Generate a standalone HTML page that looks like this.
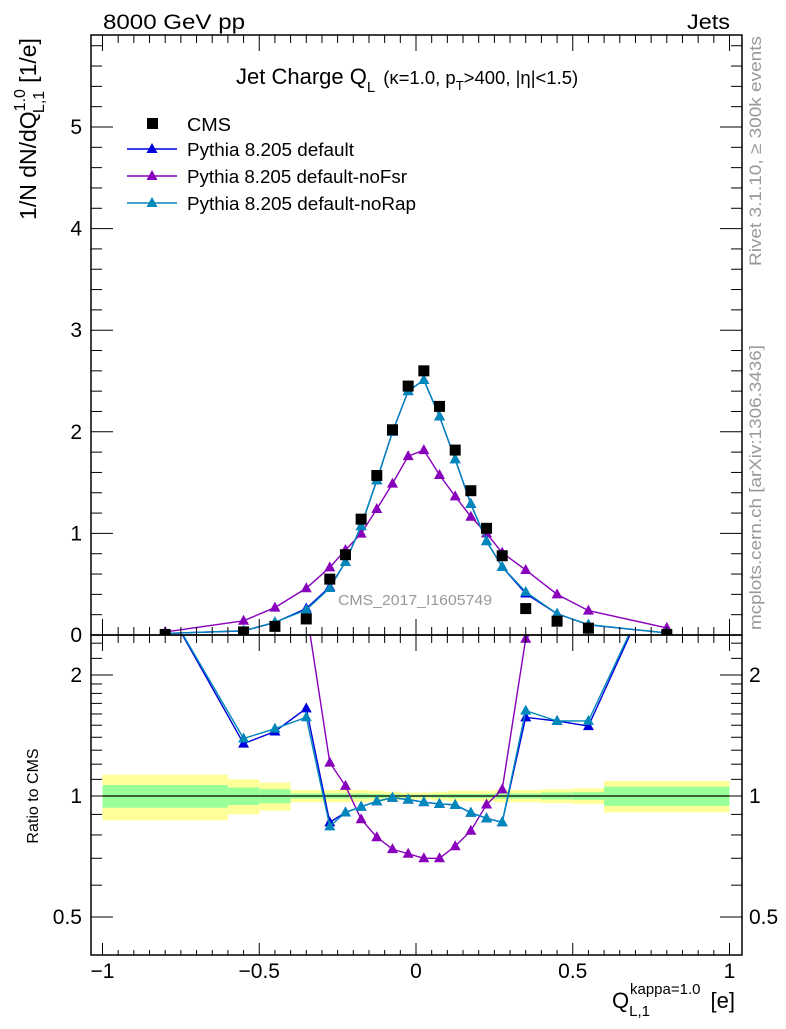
<!DOCTYPE html>
<html><head><meta charset="utf-8"><style>
body{margin:0;background:#fff;width:786px;height:1024px;overflow:hidden}
svg{font-family:"Liberation Sans",sans-serif}
</style></head><body>
<svg id="c" width="786" height="1024" viewBox="0 0 786 1024"></svg>
<script>
const xs=[-0.8,-0.55,-0.45,-0.35,-0.275,-0.225,-0.175,-0.125,-0.075,-0.025,0.025,0.075,0.125,0.175,0.225,0.275,0.35,0.45,0.55,0.8];
const cms=[0.005,0.03,0.085,0.158,0.55,0.79,1.14,1.57,2.02,2.45,2.60,2.25,1.82,1.42,1.05,0.78,0.26,0.136,0.067,0.005];
const pyDefault=[0.015,0.0405,0.123,0.261,0.473,0.719,1.072,1.523,2.0,2.40,2.51,2.15,1.73,1.29,0.924,0.671,0.408,0.209,0.10,0.02];
const pyNoFsr=[0.03,0.14,0.27,0.46,0.666,0.837,0.998,1.24,1.49,1.76,1.82,1.575,1.365,1.164,1.0,0.81,0.64,0.40,0.24,0.07];
const pyNoRap=[0.015,0.0417,0.125,0.248,0.462,0.719,1.072,1.523,2.0,2.40,2.51,2.15,1.73,1.29,0.924,0.671,0.424,0.209,0.103,0.02];
const binEdges=[-1,-0.6,-0.5,-0.4,-0.3,-0.25,-0.2,-0.15,-0.1,-0.05,0,0.05,0.1,0.15,0.2,0.25,0.3,0.4,0.5,0.6,1];
const totErr=[0.13,0.1,0.08,0.035,0.035,0.035,0.035,0.03,0.025,0.02,0.02,0.025,0.03,0.03,0.03,0.035,0.035,0.04,0.045,0.09];
const statErr=[0.065,0.05,0.04,0.015,0.015,0.015,0.015,0.012,0.01,0.008,0.008,0.01,0.012,0.012,0.012,0.015,0.015,0.02,0.022,0.055];
const mainTicks=[0,1,2,3,4,5];
const xTicks=[-1,-0.5,0,0.5,1];
const xTickLabels=["\u22121","\u22120.5","0","0.5","1"];
const ratioTicks=[0.5,1,2];

const svg=document.getElementById('c');
const NS='http://www.w3.org/2000/svg';
const L=91,R=742,T=35,MB=635,RB=955;
const X=v=>416+v*313.5;
const Y=v=>635-v*101.6;
const RY=v=>796-Math.log2(v)*121;
function mk(tag,at,parent){const e=document.createElementNS(NS,tag);for(const k in at)e.setAttribute(k,at[k]);(parent||svg).appendChild(e);return e;}
function txt(s,at,parent){const e=mk('text',at,parent);e.textContent=s;return e;}

const bands=mk('g',{});


for(let i=0;i<totErr.length;i++){
  const x0=X(binEdges[i]),x1=X(binEdges[i+1]);
  const r1=mk('rect',{x:x0,y:RY(1+totErr[i]),width:x1-x0,height:RY(1-totErr[i])-RY(1+totErr[i]),fill:'#ffff99'},bands);
  
  
  const r2=mk('rect',{x:x0,y:RY(1+statErr[i]),width:x1-x0,height:RY(1-statErr[i])-RY(1+statErr[i]),fill:'#99ff99'},bands);
  
  
}
mk('line',{x1:X(-1),x2:X(1),y1:RY(1),y2:RY(1),stroke:'#000','stroke-width':1.3});

const defs=mk('defs',{});
const cp1=mk('clipPath',{id:'cm'},defs);mk('rect',{x:L,y:T,width:R-L,height:MB-T},cp1);
const cp2=mk('clipPath',{id:'cr'},defs);mk('rect',{x:L,y:MB,width:R-L,height:RB-MB},cp2);

const series=[{n:'pythia-default',d:pyDefault,c:'#0000dd'},{n:'pythia-nofsr',d:pyNoFsr,c:'#8800bb'},{n:'pythia-norap',d:pyNoRap,c:'#0088bb'}];
function tri(g,x,y,c){mk('path',{d:`M${x},${y-6}L${x+5.5},${y+4}L${x-5.5},${y+4}Z`,fill:c},g);}
series.forEach(s=>{
  const g=mk('g',{'clip-path':'url(#cm)'});
  
  
  mk('polyline',{points:xs.map((x,i)=>X(x)+','+Y(s.d[i])).join(' '),fill:'none',stroke:s.c,'stroke-width':1.4},g);
  xs.forEach((x,i)=>tri(g,X(x),Y(s.d[i]),s.c));
  const gr=mk('g',{'clip-path':'url(#cr)'});
  
  
  const rv=s.d.map((v,i)=>v/cms[i]);
  mk('polyline',{points:xs.map((x,i)=>X(x)+','+RY(rv[i])).join(' '),fill:'none',stroke:s.c,'stroke-width':1.4},gr);
  xs.forEach((x,i)=>tri(gr,X(x),RY(rv[i]),s.c));
});
const gc=mk('g',{'clip-path':'url(#cm)'});


xs.forEach((x,i)=>mk('rect',{x:X(x)-5.5,y:Y(cms[i])-5.5,width:11,height:11,fill:'#000'},gc));

mk('rect',{x:L,y:T,width:R-L,height:MB-T,fill:'none',stroke:'#000','stroke-width':1.5});
mk('rect',{x:L,y:MB,width:R-L,height:RB-MB,fill:'none',stroke:'#000','stroke-width':1.5});

for(let k=-20;k<=20;k++){
  const v=k*0.05,x=X(v),maj=k%10==0;
  const l=maj?16:8,lb=maj?12:5;
  mk('line',{x1:x,x2:x,y1:MB,y2:MB-l,stroke:'#000'});
  mk('line',{x1:x,x2:x,y1:T,y2:T+l,stroke:'#000'});
  mk('line',{x1:x,x2:x,y1:RB,y2:RB-lb,stroke:'#000'});
  mk('line',{x1:x,x2:x,y1:MB,y2:MB+l,stroke:'#000'});
}
xTicks.forEach((v,i)=>{const t=txt(xTickLabels[i],{x:X(v),y:978,'font-size':21,'text-anchor':'middle'});
});
for(let k=0;k<=29;k++){
  const v=k*0.2,y=Y(v);if(y<T)break;const maj=k%5==0,l=maj?22:11;
  mk('line',{x1:L,x2:L+l,y1:y,y2:y,stroke:'#000'});
  mk('line',{x1:R,x2:R-l,y1:y,y2:y,stroke:'#000'});
}
mainTicks.forEach(v=>{const t=txt(String(v),{x:82,y:Y(v)+7,'font-size':21,'text-anchor':'end'});
});
const rt=[0.4,0.5,0.6,0.7,0.8,0.9,1,1.1,1.2,1.3,1.4,1.5,1.6,1.7,1.8,1.9,2,2.2,2.4];
rt.forEach(v=>{const y=RY(v);if(y<MB||y>RB)return;const maj=ratioTicks.includes(v),l=maj?22:11;
  mk('line',{x1:L,x2:L+l,y1:y,y2:y,stroke:'#000'});mk('line',{x1:R,x2:R-l,y1:y,y2:y,stroke:'#000'});});
ratioTicks.forEach(v=>{
  const a=txt(String(v),{x:82,y:RY(v)+7,'font-size':21,'text-anchor':'end'});
  
  const b=txt(String(v),{x:749,y:RY(v)+7,'font-size':21});
  
});
</script>
<svg width="786" height="1024" style="position:absolute;left:0;top:0">
<g font-family="Liberation Sans, sans-serif">
<text x="103" y="29" font-size="21" textLength="142" lengthAdjust="spacingAndGlyphs">8000 GeV pp</text>
<text x="687" y="29" font-size="21" textLength="43" lengthAdjust="spacingAndGlyphs">Jets</text>
<text x="236" y="84" font-size="22">Jet Charge Q<tspan font-size="15" dy="8">L</tspan><tspan font-size="18.5" dy="-8" dx="8">(κ=1.0, p</tspan><tspan font-size="13" dy="6">T</tspan><tspan font-size="18.5" dy="-6">&gt;400, |η|&lt;1.5)</tspan></text>
<g>
<rect x="147" y="118" width="11" height="11" fill="#000"/>
<text x="187" y="131" font-size="18" textLength="44" lengthAdjust="spacingAndGlyphs">CMS</text>
<line x1="127" x2="177" y1="149" y2="149" stroke="#0000dd" stroke-width="1.4"/><path d="M152,143L157.5,153L146.5,153Z" fill="#0000dd"/>
<text x="187" y="156" font-size="18" textLength="167" lengthAdjust="spacingAndGlyphs">Pythia 8.205 default</text>
<line x1="127" x2="177" y1="176" y2="176" stroke="#8800bb" stroke-width="1.4"/><path d="M152,170L157.5,180L146.5,180Z" fill="#8800bb"/>
<text x="187" y="183" font-size="18" textLength="220" lengthAdjust="spacingAndGlyphs">Pythia 8.205 default-noFsr</text>
<line x1="127" x2="177" y1="203" y2="203" stroke="#0088bb" stroke-width="1.4"/><path d="M152,197L157.5,207L146.5,207Z" fill="#0088bb"/>
<text x="187" y="210" font-size="18" textLength="229" lengthAdjust="spacingAndGlyphs">Pythia 8.205 default-noRap</text>
</g>
<text x="338" y="605" font-size="14.5" fill="#999" textLength="154" lengthAdjust="spacingAndGlyphs">CMS_2017_I1605749</text>
<text transform="translate(36,129) rotate(-90)" font-size="23" text-anchor="middle">1/N dN/dQ<tspan font-size="16" dy="-11">1.0</tspan><tspan font-size="16" dy="19" dx="-24">L,1</tspan><tspan dy="-8" dx="8">[1/e]</tspan></text>
<text transform="translate(38,796) rotate(-90)" font-size="16" text-anchor="middle">Ratio to CMS</text>
<text x="612" y="1008" font-size="22">Q<tspan font-size="15" dy="8">L,1</tspan><tspan font-size="15" dy="-22" dx="-20">kappa=1.0</tspan><tspan dy="14" dx="10">[e]</tspan></text>
<text transform="translate(761,266) rotate(-90)" font-size="17" fill="#999" textLength="230" lengthAdjust="spacingAndGlyphs">Rivet 3.1.10, ≥ 300k events</text>
<text transform="translate(761,630) rotate(-90)" font-size="17" fill="#999" textLength="285" lengthAdjust="spacingAndGlyphs">mcplots.cern.ch [arXiv:1306.3436]</text>
</g></svg>
</body></html>
